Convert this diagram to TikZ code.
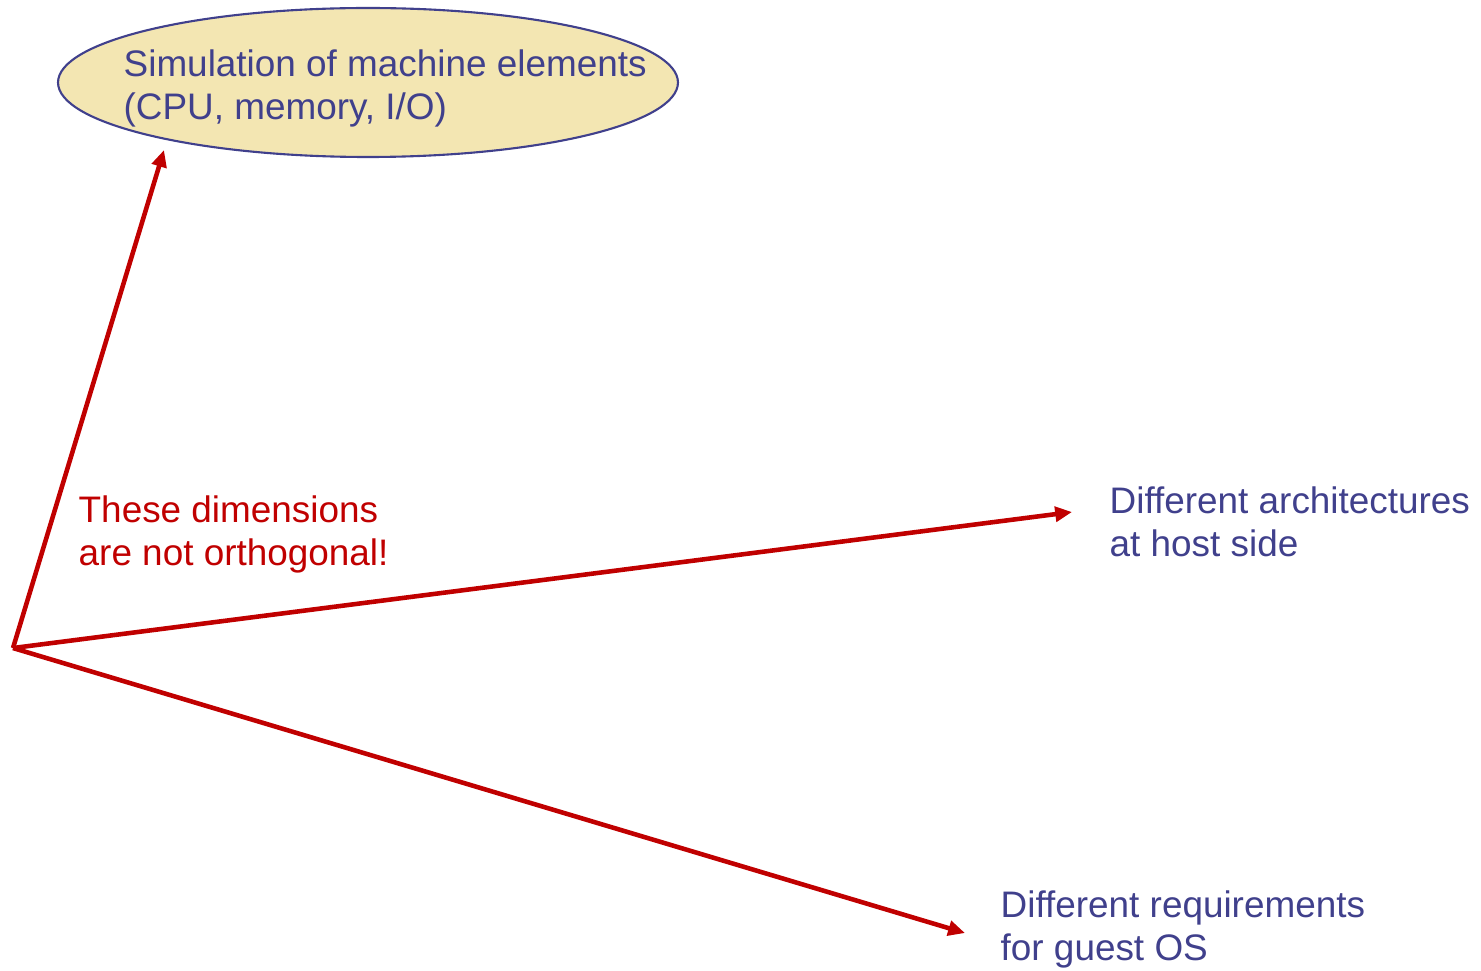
\documentclass[tikz,border=0pt]{standalone}
\usepackage{fontspec}
\setmainfont{Liberation Sans}
\usetikzlibrary{shapes.geometric,arrows.meta}
\definecolor{dimblue}{RGB}{64,64,140}
\definecolor{dimred}{RGB}{192,0,0}
\definecolor{simfill}{RGB}{243,230,178}
\begin{document}
\begin{tikzpicture}[scale=0.1]
	 \tikzstyle{every node}+=[inner sep=0pt]
	 \tikzstyle{dimtext}=[anchor=base west, align=left, font=\fontsize{10.5}{12.5}\selectfont]
	 \tikzstyle{dimarrow}=[dimred, line width=1.3pt, -{Triangle[length=4.8pt,width=4.2pt]}]
	 \useasboundingbox (0,0) rectangle (148.1,-97.1);
	 \node [ellipse, draw=dimblue, line width=0.6pt, fill=simfill, minimum width=6.2cm, minimum height=1.49cm] (sim) at (36.8,-8.25) {};
	 \node [dimtext, text=dimblue] (simtext) at (12.3,-12.0) {Simulation of machine elements\\(CPU, memory, I/O)};
	 \node [dimtext, text=dimred] (note) at (7.8,-56.6) {These dimensions\\are not orthogonal!};
	 \node [dimtext, text=dimblue] (arch) at (110.9,-55.7) {Different architectures\\at host side};
	 \node [dimtext, text=dimblue] (guest) at (100.0,-96.1) {Different requirements\\for guest OS};
	 \coordinate (origin) at (1.3,-64.8);
	 \coordinate (simtip) at (16.4,-15.0);
	 \coordinate (archtip) at (107.2,-51.2);
	 \coordinate (guesttip) at (96.5,-93.3);
	 \draw [dimarrow] (origin) -- (simtip);
	 \draw [dimarrow] (origin) -- (archtip);
	 \draw [dimarrow] (origin) -- (guesttip);
\end{tikzpicture}
\end{document}
